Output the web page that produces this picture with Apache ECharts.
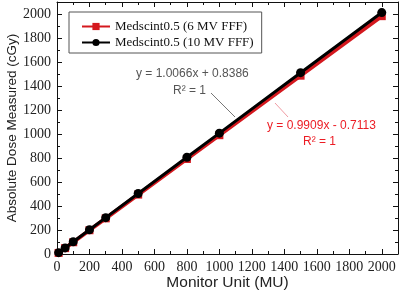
<!DOCTYPE html>
<html>
<head>
<meta charset="utf-8">
<script src="https://cdn.jsdelivr.net/npm/echarts@6/dist/echarts.min.js"></script>
<style>
  html, body { margin: 0; padding: 0; background: #fff; }
  #chart { width: 400px; height: 295px; }
</style>
</head>
<body>
<div id="chart"></div>
<script>
// monitor units and measured dose (cGy)
const monitorUnits = [10, 50, 100, 200, 300, 500, 800, 1000, 1500, 2000]
const dose6MV = [9, 49, 98, 198, 297, 495, 792, 990, 1486, 1982]
const dose10MV = [11, 51, 102, 202, 303, 504, 806, 1007, 1511, 2012]
const seriesNames = ['Medscint0.5 (6 MV FFF)', 'Medscint0.5 (10 MV FFF)']
const fitTexts = ['y = 0.9909x - 0.7113', 'y = 1.0066x + 0.8386']

const serif = '"Liberation Serif", "DejaVu Serif", serif'
const sans = '"Liberation Sans", Arial, sans-serif'

function pairs(xs, ys) {
    return xs.map((x, i) => [x, ys[i]])
}

const chart = echarts.init(document.getElementById('chart'))

const tickLabel = {
    show: true,
    showMaxLabel: false,
    color: '#222',
    fontFamily: serif,
    fontSize: 14,
    margin: 6,
    formatter: (v) => String(v)
}

// common axis look: inside ticks + minor ticks, black frame
function frameAxis(extra) {
    return Object.assign({
        type: 'value',
        min: 0,
        max: 2100,
        interval: 200,
        axisLine: { show: true, onZero: false, lineStyle: { color: '#111', width: 1 } },
        axisTick: { show: true, inside: true, length: 5, lineStyle: { color: '#111' } },
        minorTick: { show: true, splitNumber: 2, length: 3, lineStyle: { color: '#111' } },
        splitLine: { show: false },
        axisLabel: tickLabel
    }, extra)
}

let option = {
    animation: false,
    backgroundColor: '#fff',
    grid: { left: 57, right: 2, top: 2, bottom: 41, outerBoundsMode: 'none' },
    legend: {
        orient: 'vertical',
        left: 69,
        top: 12,
        itemWidth: 28,
        itemHeight: 9,
        itemGap: 3,
        padding: [8, 8, 4, 12],
        borderColor: '#555',
        borderWidth: 1,
        textStyle: { fontFamily: serif, fontSize: 13, color: '#111' },
        data: seriesNames
    },
    xAxis: [
        frameAxis({
            position: 'bottom',
            name: 'Monitor Unit (MU)',
            nameLocation: 'middle',
            nameGap: 21,
            nameMoveOverlap: false,
            nameTextStyle: { fontFamily: sans, fontSize: 15.5, color: '#222' }
        }),
        frameAxis({ position: 'top', axisLabel: { show: false } })
    ],
    yAxis: [
        frameAxis({
            position: 'left',
            name: 'Absolute Dose Measured (cGy)',
            nameLocation: 'middle',
            nameGap: 38,
            nameMoveOverlap: false,
            nameTextStyle: { fontFamily: sans, fontSize: 13.5, color: '#222' }
        }),
        frameAxis({ position: 'right', axisLabel: { show: false } })
    ],
    series: [
        {
            name: seriesNames[0],
            type: 'line',
            data: pairs(monitorUnits, dose6MV),
            symbol: 'rect',
            symbolSize: 8,
            color: '#d4181e',
            lineStyle: { width: 4, color: '#d4181e' },
            itemStyle: { color: '#d4181e' },
            z: 2
        },
        {
            name: seriesNames[1],
            type: 'line',
            data: pairs(monitorUnits, dose10MV),
            symbol: 'circle',
            symbolSize: 9,
            color: '#000',
            lineStyle: { width: 3, color: '#000' },
            itemStyle: { color: '#000' },
            z: 3
        }
    ],
    graphic: [
        { type: 'text', left: 136, top: 68, style: { text: fitTexts[1], fill: '#555', font: '12px ' + sans } },
        { type: 'text', left: 173, top: 85, style: { text: 'R² = 1', fill: '#555', font: '12px ' + sans } },
        { type: 'line', shape: { x1: 211, y1: 93, x2: 235, y2: 117 }, style: { stroke: '#777', lineWidth: 1 } },
        { type: 'text', left: 267, top: 120, style: { text: fitTexts[0], fill: '#ec1c24', font: '12px ' + sans } },
        { type: 'text', left: 303, top: 136, style: { text: 'R² = 1', fill: '#ec1c24', font: '12px ' + sans } },
        { type: 'line', shape: { x1: 275, y1: 103, x2: 288, y2: 117 }, style: { stroke: '#f09aa2', lineWidth: 1 } }
    ]
}
chart.setOption(option)
</script>
</body>
</html>
